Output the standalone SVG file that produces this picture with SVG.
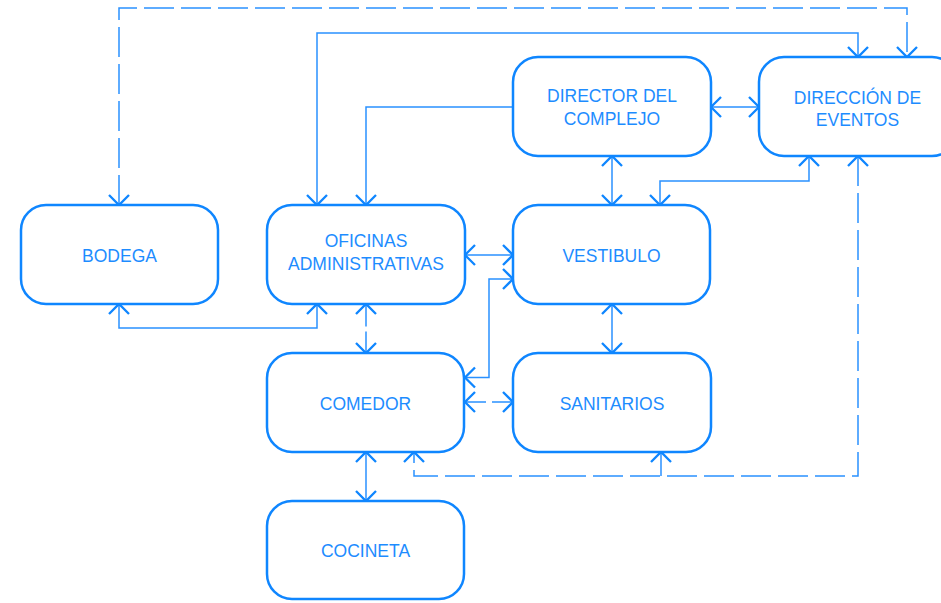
<svg xmlns="http://www.w3.org/2000/svg" width="941" height="603" viewBox="0 0 941 603">
  <style>
    .box { fill: #ffffff; stroke: #0f86ff; stroke-width: 2.5; }
    .lbl { font-family: "Liberation Sans", Arial, sans-serif; font-size: 17.5px; fill: #1d8cff; text-anchor: middle; }
    .ln { fill: none; stroke: #2a91ff; stroke-width: 1.5; }
    .dash { stroke-dasharray: 30 7; }
  </style>
  <defs>
    <marker id="arr" markerUnits="userSpaceOnUse" viewBox="-14 -14 28 28" markerWidth="28" markerHeight="28" refX="0" refY="0" orient="auto-start-reverse" overflow="visible">
      <path d="M-10,-10 L0,0 L-10,10" fill="none" stroke="#0f86ff" stroke-width="2.3"/>
    </marker>
  </defs>

  <!-- connectors -->
  <g id="connectors">
    <path class="ln dash" d="M119,205 V8 H907 V57" marker-start="url(#arr)" marker-end="url(#arr)"/>
    <path class="ln" d="M317,205 V33 H858 V57" marker-start="url(#arr)" marker-end="url(#arr)"/>
    <path class="ln" d="M513,107 H366 V205" marker-end="url(#arr)"/>
    <path class="ln" d="M711,107 H759" marker-start="url(#arr)" marker-end="url(#arr)"/>
    <path class="ln" d="M612,156 V205" marker-start="url(#arr)" marker-end="url(#arr)"/>
    <path class="ln" d="M809,156 V181 H660 V205" marker-start="url(#arr)" marker-end="url(#arr)"/>
    <path class="ln dash" d="M858,156 V476 H414 V452" marker-start="url(#arr)" marker-end="url(#arr)"/>
    <path class="ln" d="M661,476 V452" marker-end="url(#arr)"/>
    <path class="ln" d="M465,255 H513" marker-start="url(#arr)" marker-end="url(#arr)"/>
    <path class="ln" d="M513,279 H489 V377.5 H465" marker-start="url(#arr)" marker-end="url(#arr)"/>
    <path class="ln" style="stroke-dasharray: 21 6" d="M465,402 H513" marker-start="url(#arr)" marker-end="url(#arr)"/>
    <path class="ln" style="stroke-dasharray: 22.5 5" d="M366,304 V353" marker-start="url(#arr)" marker-end="url(#arr)"/>
    <path class="ln" d="M119,304 V328 H317 V304" marker-start="url(#arr)" marker-end="url(#arr)"/>
    <path class="ln" d="M612,304 V353" marker-start="url(#arr)" marker-end="url(#arr)"/>
    <path class="ln" d="M366,452 V501" marker-start="url(#arr)" marker-end="url(#arr)"/>
  </g>

  <!-- nodes -->
  <g id="director">
    <rect class="box" x="513" y="57" width="198" height="99" rx="25"/>
    <text class="lbl" x="612" y="102">DIRECTOR DEL</text>
    <text class="lbl" x="612" y="124.5">COMPLEJO</text>
  </g>
  <g id="direccion-eventos">
    <rect class="box" x="759" y="57" width="198" height="99" rx="25"/>
    <text class="lbl" x="857.5" y="103.5">DIRECCIÓN DE</text>
    <text class="lbl" x="857.5" y="125.5">EVENTOS</text>
  </g>
  <g id="bodega">
    <rect class="box" x="21" y="205" width="197" height="99" rx="25"/>
    <text class="lbl" x="119.5" y="261.5">BODEGA</text>
  </g>
  <g id="oficinas">
    <rect class="box" x="267" y="205" width="198" height="99" rx="25"/>
    <text class="lbl" x="366" y="247">OFICINAS</text>
    <text class="lbl" x="366" y="270">ADMINISTRATIVAS</text>
  </g>
  <g id="vestibulo">
    <rect class="box" x="513" y="205" width="197" height="99" rx="25"/>
    <text class="lbl" x="611.5" y="261.5">VESTIBULO</text>
  </g>
  <g id="comedor">
    <rect class="box" x="267" y="353" width="197" height="99" rx="25"/>
    <text class="lbl" x="365.5" y="410">COMEDOR</text>
  </g>
  <g id="sanitarios">
    <rect class="box" x="513" y="353" width="198" height="99" rx="25"/>
    <text class="lbl" x="612" y="410">SANITARIOS</text>
  </g>
  <g id="cocineta">
    <rect class="box" x="267" y="501" width="197" height="98" rx="25"/>
    <text class="lbl" x="365.5" y="557">COCINETA</text>
  </g>
</svg>
